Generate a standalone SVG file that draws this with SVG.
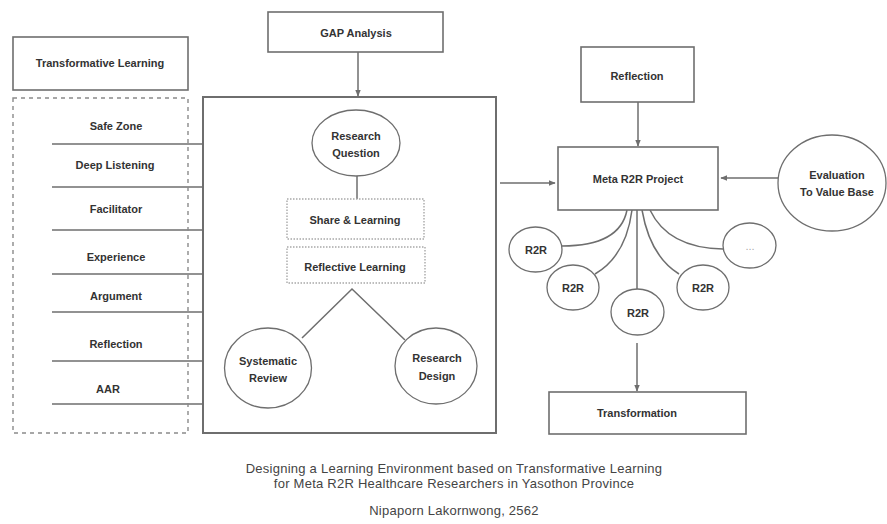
<svg xmlns="http://www.w3.org/2000/svg" width="887" height="524" viewBox="0 0 887 524">
<style>
.box{fill:#fff;stroke:#6e6e6e;stroke-width:1.6}
.ell{fill:#fff;stroke:#6e6e6e;stroke-width:1.3}
.dot{fill:#fff;stroke:#a8a8a8;stroke-width:1.4;stroke-dasharray:1.5 1.5}
.dash{fill:none;stroke:#8a8a8a;stroke-width:1.4;stroke-dasharray:4 4}
.ln{fill:none;stroke:#6e6e6e;stroke-width:1.5}
.t{font-family:"Liberation Sans",Arial,sans-serif;font-size:11px;font-weight:bold;fill:#333;text-anchor:middle;dominant-baseline:central}
.cap{font-family:"Liberation Sans",Arial,sans-serif;font-size:13px;letter-spacing:0.25px;fill:#444;text-anchor:middle;dominant-baseline:central}
</style>
<defs>
<marker id="ah" viewBox="0 0 10 10" refX="9" refY="5" markerWidth="7" markerHeight="7" markerUnits="userSpaceOnUse" orient="auto">
<path d="M0,1 L10,5 L0,9 z" fill="#6e6e6e"/>
</marker>
</defs>
<rect width="887" height="524" fill="#fff"/>

<g id="main-box"><rect x="203" y="97" width="293" height="336" style="fill:none;stroke:#6e6e6e;stroke-width:2"/></g>

<g id="connectors">
<line class="ln" x1="52" y1="144" x2="203" y2="144"/>
<line class="ln" x1="52" y1="187" x2="203" y2="187"/>
<line class="ln" x1="52" y1="230" x2="203" y2="230"/>
<line class="ln" x1="52" y1="274" x2="203" y2="274"/>
<line class="ln" x1="52" y1="312" x2="203" y2="312"/>
<line class="ln" x1="52" y1="361" x2="203" y2="361"/>
<line class="ln" x1="52" y1="404" x2="203" y2="404"/>
<line class="ln" x1="358" y1="52" x2="358" y2="96" marker-end="url(#ah)"/>
<line class="ln" x1="357" y1="176" x2="357" y2="199"/>
<polyline class="ln" points="302,338 352,289 405,340"/>
<line class="ln" x1="500" y1="183" x2="555" y2="183" marker-end="url(#ah)"/>
<line class="ln" x1="638" y1="102" x2="638" y2="146" marker-end="url(#ah)"/>
<line class="ln" x1="778" y1="178" x2="721" y2="178" marker-end="url(#ah)"/>
<path class="ln" d="M627,210 Q620,246 562,246"/>
<path class="ln" d="M632,210 Q626,256 595,274"/>
<line class="ln" x1="637" y1="210" x2="637" y2="289"/>
<path class="ln" d="M642,210 Q650,256 679,274"/>
<path class="ln" d="M650,210 Q668,248 723,249"/>
<line class="ln" x1="637" y1="343" x2="637" y2="391" marker-end="url(#ah)"/>
</g>

<g id="transformative-learning"><rect class="box" x="13" y="37" width="175" height="53"/><text class="t" x="100" y="63">Transformative Learning</text></g>
<g id="tl-group"><rect class="dash" x="13" y="98" width="175" height="335"/></g>
<g id="safe-zone"><text class="t" x="116" y="126">Safe Zone</text></g>
<g id="deep-listening"><text class="t" x="115" y="165">Deep Listening</text></g>
<g id="facilitator"><text class="t" x="116" y="209">Facilitator</text></g>
<g id="experience"><text class="t" x="116" y="257">Experience</text></g>
<g id="argument"><text class="t" x="116" y="296">Argument</text></g>
<g id="reflection-left"><text class="t" x="116" y="344">Reflection</text></g>
<g id="aar"><text class="t" x="108" y="389">AAR</text></g>

<g id="gap-analysis"><rect class="box" x="268" y="12" width="175" height="40"/><text class="t" x="356" y="33">GAP Analysis</text></g>
<g id="research-question"><ellipse class="ell" cx="356" cy="143" rx="44" ry="33"/><text class="t" x="356" y="136">Research</text><text class="t" x="356" y="153">Question</text></g>
<g id="share-learning"><rect class="dot" x="287" y="199" width="137" height="40"/><text class="t" x="355" y="220">Share &amp; Learning</text></g>
<g id="reflective-learning"><rect class="dot" x="287" y="247" width="138" height="36"/><text class="t" x="355" y="267">Reflective Learning</text></g>
<g id="systematic-review"><ellipse class="ell" cx="268" cy="368" rx="43.5" ry="40"/><text class="t" x="268" y="361">Systematic</text><text class="t" x="268" y="378">Review</text></g>
<g id="research-design"><ellipse class="ell" cx="436" cy="366" rx="41" ry="38"/><text class="t" x="437" y="358">Research</text><text class="t" x="437" y="376">Design</text></g>

<g id="reflection"><rect class="box" x="581" y="47" width="113" height="55"/><text class="t" x="637" y="76">Reflection</text></g>
<g id="meta-r2r"><rect class="box" x="558" y="147" width="160" height="63"/><text class="t" x="638" y="179">Meta R2R Project</text></g>
<g id="evaluation"><ellipse class="ell" cx="832" cy="183" rx="54" ry="48"/><text class="t" x="837" y="175">Evaluation</text><text class="t" x="837" y="192">To Value Base</text></g>
<g id="r2r-1"><ellipse class="ell" cx="535.5" cy="249.5" rx="26.5" ry="22.5"/><text class="t" x="536" y="250">R2R</text></g>
<g id="r2r-2"><ellipse class="ell" cx="573" cy="287.5" rx="26" ry="22.5"/><text class="t" x="573" y="288">R2R</text></g>
<g id="r2r-3"><ellipse class="ell" cx="637.5" cy="312" rx="26.5" ry="23"/><text class="t" x="638" y="313">R2R</text></g>
<g id="r2r-4"><ellipse class="ell" cx="703" cy="287.5" rx="26" ry="22.5"/><text class="t" x="703" y="288">R2R</text></g>
<g id="r2r-more"><ellipse class="ell" cx="749.5" cy="245.5" rx="26.5" ry="22.5"/><text class="t" x="750" y="246" style="fill:#aaa;font-weight:normal">...</text></g>
<g id="transformation"><rect class="box" x="549" y="392" width="197" height="42"/><text class="t" x="637" y="413">Transformation</text></g>

<g id="caption">
<text class="cap" x="454" y="468">Designing a Learning Environment based on Transformative Learning</text>
<text class="cap" x="454" y="483">for Meta R2R Healthcare Researchers in Yasothon Province</text>
<text class="cap" x="454" y="510">Nipaporn Lakornwong, 2562</text>
</g>
</svg>
